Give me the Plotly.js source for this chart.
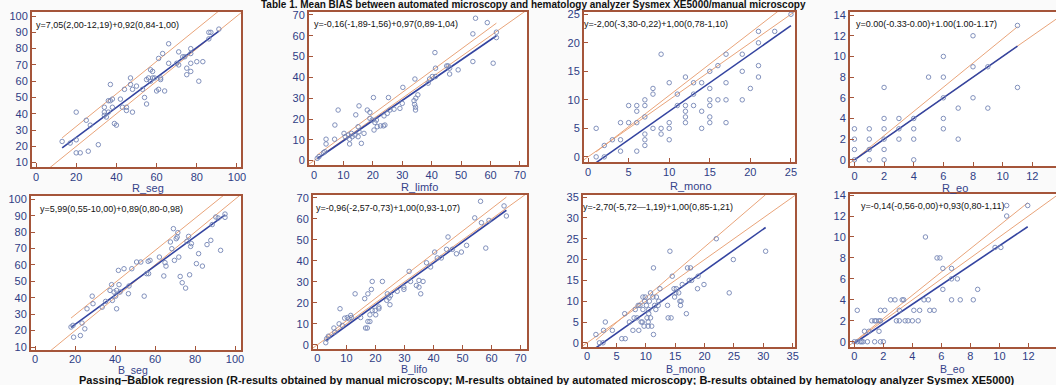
<!DOCTYPE html>
<html><head><meta charset="utf-8">
<script src="https://cdn.plot.ly/plotly-3.0.1.min.js"></script>
<style>html,body{margin:0;padding:0;background:#fafafa;}#chart{width:1056px;height:385px;}</style>
</head><body><div id="chart"></div>
<script>
// ---------- DATA ----------
const axisTitles = ['R_seg','R_limfo','R_mono','R_eo','B_seg','B_lifo','B_mono','B_eo'];
const equations = [
  'y=7,05(2,00-12,19)+0,92(0,84-1,00)',
  'y=-0,16(-1,89-1,56)+0,97(0,89-1,04)',
  'y=-2,00(-3,30-0,22)+1,00(0,78-1,10)',
  'y=0.00(-0.33-0.00)+1.00(1.00-1.17)',
  'y=5,99(0,55-10,00)+0,89(0,80-0,98)',
  'y=-0,96(-2,57-0,73)+1,00(0,93-1,07)',
  'y=-2,70(-5,72\u20141,19)+1,00(0,85-1,21)',
  'y=-0,14(-0,56-0,00)+0,93(0,80-1,11)'
];
const intercepts      = [7.05, -0.16, -2.00, 0.00, 5.99, -0.96, -2.70, -0.14];
const slopes          = [0.92,  0.97,  1.00, 1.00, 0.89,  1.00,  1.00,  0.93];
const upperIntercepts = [12.19, 1.56, -0.22, 0.00, 10.00, 0.73, -1.19, 0.00];
const upperSlopes     = [1.00,  1.04,  1.10, 1.17, 0.98,  1.07,  1.21,  1.11];

const rSegX = [13,17,20,20,20,22,25,26,27,31,34,34,34,35,36,36,37,37,38,38,39,40,42,43,44,45,45,47,47,48,48,50,53,54,55,55,56,57,57,58,58,59,60,61,61,62,62,63,64,66,66,70,71,71,73,74,75,75,77,77,77,77,80,83,81,86,86,87,91];
const rSegY = [23,22,24,41,16,16,36,17,33,21,44,41,39,38,41,48,58,48,49,44,34,33,49,44,55,42,44,62,58,55,41,57,55,50,46,61,62,67,60,62,66,62,54,55,74,61,62,77,54,83,71,71,78,70,75,75,68,64,80,71,77,66,72,72,60,86,90,90,92];

const rLimfoX = [1.1,1.7,3.2,3.7,4.1,4.1,7,7.1,8.2,10.2,10.6,11.7,12.1,12.1,12.7,13,13.9,14.2,15,15,15.3,15.3,16.1,17,18.1,19,19,19.8,20.2,20.4,20.7,21.2,21.5,22.6,23.6,23.8,24.1,24.9,25.3,25.8,27.2,29.2,30,30.2,34.3,34,34.5,34.5,34.2,34.6,35.3,38.8,39.3,40.2,41.1,41.3,41.3,45.1,45.6,46.1,46.1,49,54,54,54.9,58.9,60.9,62,62];
const rLimfoY = [1.1,1.9,3.8,4.3,10.3,8,10.3,17.1,24.3,13.1,11.5,12.3,10.3,8,13.1,11.5,12.3,22,16.3,11.5,26.3,13.9,8.3,13.1,24.3,23.2,20.3,19.5,30.3,14.7,18.3,19.5,16.3,16.7,16.7,21.5,17.1,22.7,30.3,24.3,24.7,25.1,27.5,35.2,39.2,28.8,25.7,24.3,27,30,31.6,37.2,39.2,40.4,51.9,40.4,44.4,45.5,45.5,41.6,44.4,43.6,60.9,47.6,68.4,66.3,46.8,61.7,59.1];

const rMonoX = [1,1,2,2,3,4,4,4,5,5,6,6,6,6,7,7,7,7,7,7,8,8,8,9,9,9,10,10,10,10,11,11,12,12,12,12,12,13,13,13,14,14,14,15,15,15,15,15,15,16,16,17,17,17,17,19,19,19,20,21,21,21,21,23,25];
const rMonoY = [5,0,2,0,3,6,3,1,9,6,9,8,6,1,10,9,7,4,3,2,12,11,5,18,5,4,13,6,5,3,11,9,14,9,8,7,6,13,11,9,13,8,5,15,12,10,9,7,6,16,10,18,13,10,6,18,15,10,12,22,20,16,14,22,25];

const rEoX = [0,0,0,0,1,1,1,1,2,2,2,2,2,2,3,3,3,4,4,4,4,5,6,6,6,6,6,7,7,8,8,8,9,9,11,11];
const rEoY = [0,1,2,3,0,1,2,3,0,1,2,3,4,7,2,3,4,0,2,3,4,8,10,8,6,4,3,5,2,12,9,6,9,5,13,7];

const bSegX = [18,19.3,19,22.7,23.5,24.9,26,28.6,29,33.6,35.3,37.5,38.3,38.7,39.5,40.3,40.8,40.8,41.7,42,42.5,44.5,46.7,47,48.4,50.8,52.9,54.6,55.8,56.6,56.8,57.5,62.2,64.4,65,65.5,67.7,68.4,69.2,69.7,70.6,71.1,71.4,71.9,72.6,73.6,75.3,76,76.8,77.3,77.8,78.2,80.7,81.8,83.7,86,87.9,88.6,90.4,91.6,92.8,95,95];
const bSegY = [22.2,16,23.2,17,24.6,21.1,33.3,41,36.4,34.3,37.8,44.5,48,38.4,43.5,41,44.5,33.3,56.7,48,43.5,57.7,42.5,47.2,57.7,61.8,61.8,41,54.7,62.2,54.7,62.8,64.8,53.3,61.4,59.3,74,69.9,82.1,62.8,76,77,79.7,64.8,53,49.2,45.9,74.4,77.4,54,71.3,73,60.8,66.9,59.3,72.4,75,84.6,89.2,88.6,68.9,91,89];

const bLifoX = [2.9,3.2,3.8,5.7,6,7.5,7.8,8.6,9.4,10.3,10.9,11.5,11.7,13,14.9,16.3,16.6,17.2,17.4,17.4,18.1,18.1,18.6,18.9,18.9,19.9,20.1,21.2,21.2,22.4,23.9,24.1,24.7,25,25.2,27.5,29.8,29.8,31.6,32.1,34.1,35,35,35.6,36.4,37.6,39,40.4,41.3,42.7,45,44.5,46.5,47.9,49.6,51.4,54.2,56.2,56.5,58,59.1,64.3,65.1];
const bLifoY = [1,2.9,4.1,8,6,10,17.2,9.2,12.7,13,12.4,14,13,24.3,13,22,8,8,24.3,11.1,11.1,14.3,26.4,16.4,30.2,16.4,14.3,18,17.2,30.2,21.2,24.3,22.3,19.1,23.5,25.5,26.4,27.5,35,30.2,28.3,30.7,27.5,24.3,30.2,39.1,37.1,44.2,41.4,41.4,51.4,45.5,45.5,43.4,44.2,47.4,60.5,68.4,58.2,46.1,59.3,66.2,61.4];

const bMonoX = [1.5,2.1,2.7,2.8,3.1,4.3,5.9,6.5,6.4,7.2,7.8,8,8.2,8.5,8.7,8.8,9,9.2,9.5,9.5,9.4,9.7,9.8,9.9,10.1,10.2,10.4,10.4,10.5,10.5,10.6,10.8,10.8,11,11.2,11.3,11.3,11.5,11.7,11.8,12.1,12.2,12.4,13.7,13.8,14.1,14.3,14.5,14.8,14.9,15.1,15.2,15.6,15.8,15.9,16,16.2,16.9,17.1,17.4,17.6,17.8,18.8,18.9,19.9,22,24.2,24.9,30.4];
const bMonoY = [2,0,0,3,5,3,1,1,7,5,3,6,8,6,9,3,9,5,11,8,5,4,10,11,9,6,5,4,7,8,10,6,12,4,11,2,18,9,8,11,9,10,13,9,6,22,6,16,13,11,12,13,12,10,9,10,14,7,18,15,18,15,13,16,14,25,12,20,22];

const bEoX = [0,0.2,0.2,0.4,0.5,0.6,0.7,0.9,1,1.2,1.4,1.4,1.5,1.7,1.7,1.8,1.8,1.8,2,2.1,2.5,2.8,2.9,3.1,3.1,3.3,3.4,3.5,3.7,4,4.1,4.4,4.5,4.8,4.9,5.1,5.2,5.5,5.7,5.9,6.1,6.1,6.7,6.7,6.7,7.1,7.3,8.2,8.5,9.7,10.1,10.5,10.5,11.95];
const bEoY = [0,0,3,0,0,0,1,0,1,2,2,0,2,1,2,0,2,3,0,3,4,4,2,2,3,4,4,2,2,2,3,2,3,4,10,4,3,3,8,8,7,5,4,7,6,6,4,4,5,9,9,12,13,13];

const panelX = [rSegX, rLimfoX, rMonoX, rEoX, bSegX, bLifoX, bMonoX, bEoX];
const panelY = [rSegY, rLimfoY, rMonoY, rEoY, bSegY, bLifoY, bMonoY, bEoY];

const mainTitle = 'Table 1. Mean BIAS between automated microscopy and hematology analyzer Sysmex XE5000/manual microscopy';
const caption = 'Passing\u2013Bablok regression (R-results obtained by manual microscopy; M-results obtained by automated microscopy; B-results obtained by hematology analyzer Sysmex XE5000)';

// ---------- LAYOUT CONFIG (positions in px) ----------
const W = 1056, H = 385;
const boxes = [[32,241,12,167],[309,527,12,165],[584,795,12,162],[850,1056,12,166],
               [31,241,196,350],[313,527,195,349],[583,795,195,347],[850,1056,194,347]];
const xRanges = [[-2,102],[-1.7,72.4],[-0.5,25.5],[-0.3,13.6],[-2,103],[-1.5,72.2],[-0.7,35.4],[-0.3,13.9]];
const yRanges = [[7.3,102.5],[-2.1,71.4],[-0.9,25.4],[-0.6,14.3],[8.2,102],[-2,71.4],[-1,35.5],[-0.5,14.1]];
const xDticks = [20,10,5,2,20,10,5,2];
const yDticks = [10,10,5,2,10,10,5,2];
const xLabelShift = [-1,-1,-1,-1,-2,-2,-2,-2];
const eqPos = [[34,25],[312,24],[582,24],[854,24],[38,209],[314,208],[581,207],[859,206]];
const titlePos = [[148,188],[419,187],[691,186],[955,188],[133,370],[414,369],[685,369],[952,369]];
const titleSizes = [11,11,11,11,10.5,10.5,10.5,10.5];

const boxColor = '#a5553a', tickColor = '#2f3d85', orange = '#e9a47a', blue = '#3444a0', marker = '#7485b4';
const FONT = 'Liberation Sans, Arial, sans-serif';

const traces = [];
const layout = {
  width: W, height: H, margin: {l:0,r:0,t:0,b:0},
  paper_bgcolor: '#fafafa', plot_bgcolor: '#ffffff', showlegend: false,
  font: {family: FONT, size: 11, color: tickColor},
  annotations: []
};
const px = v => v / W, py = v => 1 - v / H;

for (let i = 0; i < 8; i++) {
  const n = i === 0 ? '' : String(i + 1);
  const xa = 'x' + n, ya = 'y' + n;
  const xs = panelX[i], ys = panelY[i];
  const xmin = Math.min(...xs), xmax = Math.max(...xs);
  const lo = Math.min(xRanges[i][0], yRanges[i][0]), hi = Math.max(xRanges[i][1], yRanges[i][1]);
  traces.push({x:[lo,hi], y:[lo,hi], xaxis:xa, yaxis:ya, mode:'lines', line:{color:orange, width:1}, hoverinfo:'skip'});
  traces.push({x:[xmin,xmax], y:[upperIntercepts[i]+upperSlopes[i]*xmin, upperIntercepts[i]+upperSlopes[i]*xmax], xaxis:xa, yaxis:ya, mode:'lines', line:{color:orange, width:1}, hoverinfo:'skip'});
  traces.push({x:[xmin,xmax], y:[intercepts[i]+slopes[i]*xmin, intercepts[i]+slopes[i]*xmax], xaxis:xa, yaxis:ya, mode:'lines', line:{color:blue, width:1.6}, hoverinfo:'skip'});
  traces.push({x:xs, y:ys, xaxis:xa, yaxis:ya, mode:'markers', marker:{symbol:'circle-open', size:4.5, color:marker, line:{width:0.9, color:marker}}});

  const b = boxes[i];
  const axCommon = {showline:true, mirror:true, linecolor:boxColor, linewidth:2, showgrid:false, zeroline:false,
    ticks:'inside', ticklen:4, tickwidth:1, tickcolor:boxColor, tickfont:{family:FONT, size:11, color:tickColor}, fixedrange:true};
  layout['xaxis' + n] = Object.assign({}, axCommon, {domain:[px(b[0]), px(b[1])], range:xRanges[i], dtick:xDticks[i], tick0:0, anchor:ya, ticklabelstandoff:xLabelShift[i]});
  layout['yaxis' + n] = Object.assign({}, axCommon, {domain:[py(b[3]), py(b[2])], range:yRanges[i], dtick:yDticks[i], tick0:0, anchor:xa});

  layout.annotations.push({xref:'paper', yref:'paper', x:px(eqPos[i][0]), y:py(eqPos[i][1]), xanchor:'left', yanchor:'middle',
    text:equations[i], showarrow:false, font:{family:FONT, size:9, color:'#111111'}});
  layout.annotations.push({xref:'paper', yref:'paper', x:px(titlePos[i][0]), y:py(titlePos[i][1]), xanchor:'center', yanchor:'middle',
    text:axisTitles[i], showarrow:false, font:{family:FONT, size:titleSizes[i], color:'#34428a'}});
}
layout.annotations.push({xref:'paper', yref:'paper', x:px(533), y:py(4.5), xanchor:'center', yanchor:'middle',
  text:'<b>' + mainTitle + '</b>', showarrow:false, font:{family:FONT, size:10, color:'#111111'}});
layout.annotations.push({xref:'paper', yref:'paper', x:px(547), y:py(379.5), xanchor:'center', yanchor:'middle',
  text:'<b>' + caption + '</b>', showarrow:false, font:{family:FONT, size:11, color:'#111111'}});

Plotly.newPlot('chart', traces, layout, {displayModeBar:false, staticPlot:true});
</script></body></html>
